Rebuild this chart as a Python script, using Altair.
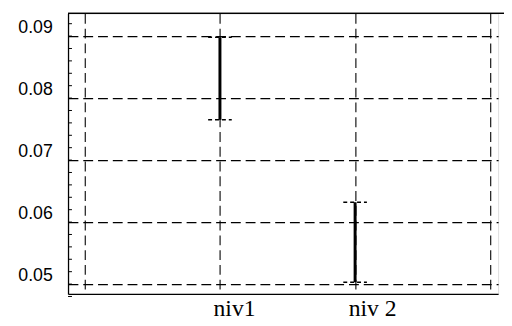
import altair as alt
import pandas as pd

# data
levels = ["niv1", "niv 2"]
level_pos = [1, 2]
lower = [0.0765, 0.0503]
upper = [0.0898, 0.0632]

x_grid = [0, 1, 2, 3]
y_ticks = [0.05, 0.06, 0.07, 0.08, 0.09]
y_minor = [0.048, 0.050, 0.052, 0.054, 0.056, 0.058, 0.060, 0.062, 0.064, 0.066,
           0.068, 0.070, 0.072, 0.074, 0.076, 0.078, 0.080, 0.082, 0.084, 0.086,
           0.088, 0.090, 0.092]

x_domain = [-0.124, 3.058]
y_domain = [0.04841, 0.09365]

W, H = 437, 285

df = pd.DataFrame({"pos": level_pos, "level": levels, "lo": lower, "hi": upper})
minor_df = pd.DataFrame({"v": y_minor})

label_expr = " : ".join(
    [f"datum.value == {p} ? '{l}'" for p, l in zip(level_pos, levels)]
) + " : ''"

xs = alt.Scale(domain=x_domain, nice=False, zero=False)
ys = alt.Scale(domain=y_domain, nice=False, zero=False)

x_axis = alt.Axis(
    values=x_grid, labelExpr=label_expr, title=None,
    grid=True, gridDash=[10, 5], gridColor="#000", gridWidth=1.1,
    ticks=False, domainColor="#000", domainWidth=1.3,
    labelFont="Liberation Serif", labelFontSize=24, labelColor="#000",
    labelAlign="left", labelOffset=-7, labelBaseline="top", labelPadding=3,
    labelOverlap=False,
)
y_axis = alt.Axis(
    values=y_ticks, format=".2f", title=None,
    grid=True, gridDash=[10, 5], gridColor="#000", gridWidth=1.1,
    ticks=False, domainColor="#000", domainWidth=1.3,
    labelFont="Liberation Sans", labelFontSize=18, labelColor="#000",
    labelOffset=-9, labelPadding=16,
)

base_grid = alt.Chart(df).mark_point(opacity=0).encode(
    x=alt.X("pos:Q", scale=xs, axis=x_axis),
    y=alt.Y("lo:Q", scale=ys, axis=y_axis),
)

bars = alt.Chart(df).mark_rule(color="#000", strokeWidth=3).encode(
    x=alt.X("pos:Q", scale=xs),
    y=alt.Y("lo:Q", scale=ys),
    y2="hi:Q",
)

cap_lo = alt.Chart(df).mark_rule(
    color="#000", strokeWidth=1.5, strokeDash=[4, 3], xOffset=-12, x2Offset=12
).encode(x=alt.X("pos:Q", scale=xs), x2="pos:Q", y=alt.Y("lo:Q", scale=ys))

cap_hi = alt.Chart(df).mark_rule(
    color="#000", strokeWidth=1.5, strokeDash=[4, 3], xOffset=-12, x2Offset=12
).encode(x=alt.X("pos:Q", scale=xs), x2="pos:Q", y=alt.Y("hi:Q", scale=ys))

minor = alt.Chart(minor_df).mark_rule(color="#000", strokeWidth=1).encode(
    y=alt.Y("v:Q", scale=ys),
    x=alt.value(0),
    x2=alt.value(4),
)

top_line = alt.Chart(df).mark_rule(color="#000", strokeWidth=1.3).encode(
    y=alt.value(0), x=alt.value(0), x2=alt.value(W + 6)
)

chart = alt.layer(base_grid, minor, top_line, bars, cap_lo, cap_hi).properties(
    width=W, height=H,
    autosize=alt.AutoSizeParams(type="none"),
    padding={"left": 61, "top": 3, "right": 6, "bottom": 28},
).configure_view(stroke=None).configure(background="white")

chart.save("out.html", embed_options={"renderer": "svg", "actions": False})
